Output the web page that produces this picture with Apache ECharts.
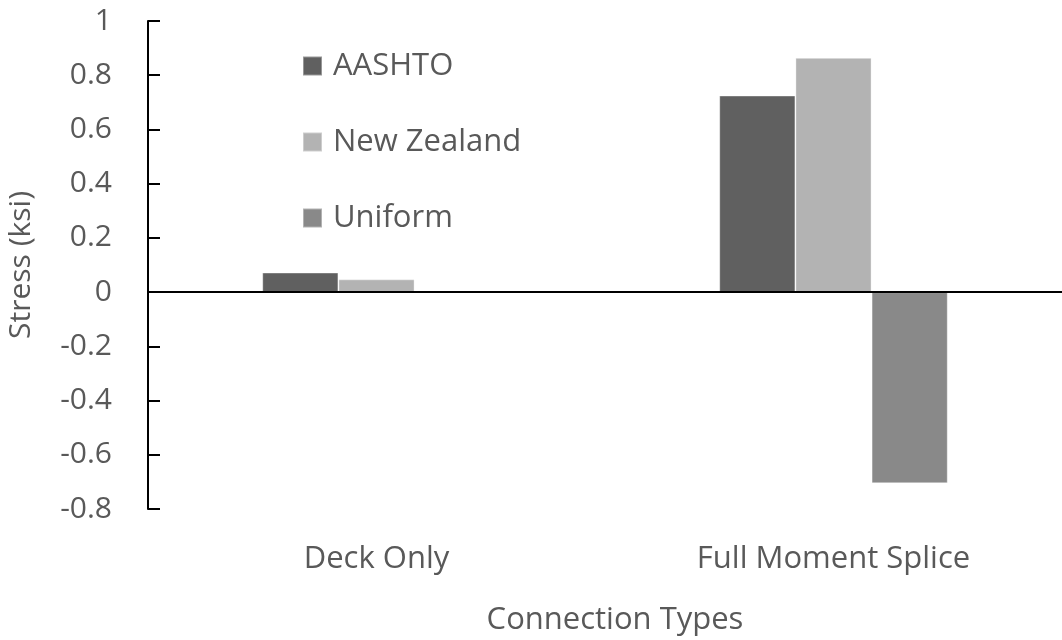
<!DOCTYPE html>
<html>
<head>
<meta charset="utf-8">
<script src="https://cdn.jsdelivr.net/npm/echarts@6/dist/echarts.min.js"></script>
<style>
  html, body { margin: 0; padding: 0; background: #fff; }
  #chart { width: 1062px; height: 640px; }
</style>
</head>
<body>
<div id="chart"></div>
<script>
// Connection types on the category axis
const categories = ['Deck Only', 'Full Moment Splice'];

// Stress (ksi) per load distribution method
const aashto = [0.072, 0.725];
const newZealand = [0.047, 0.864];
const uniform = [0, -0.705];

const seriesNames = ['AASHTO', 'New Zealand', 'Uniform'];
const seriesColors = ['#606060', '#b3b3b3', '#898989'];

const textColor = '#595959';
const fontFamily = '"Open Sans", "Noto Sans", sans-serif';

const chart = echarts.init(document.getElementById('chart'));

const values = [aashto, newZealand, uniform];

const series = values.map((data, i) => ({
  name: seriesNames[i],
  type: 'bar',
  data: data,
  barGap: '0%',
  barCategoryGap: '50%',
  itemStyle: { color: seriesColors[i], borderColor: 'rgba(255,255,255,0.35)', borderWidth: 1 },
  silent: true
}));

// zero baseline across the whole plot width
series[0].markLine = {
  silent: true,
  symbol: ['none', 'none'],
  label: { show: false },
  lineStyle: { color: '#000', width: 2, type: 'solid' },
  data: [{ yAxis: 0 }],
  animation: false
};

chart.setOption({
  animation: false,
  textStyle: { fontFamily: fontFamily },
  grid: { left: 148, right: 0, top: 21, bottom: 131, containLabel: false, outerBoundsMode: 'none' },
  legend: {
    orient: 'vertical',
    left: 302,
    top: 48,
    padding: 0,
    itemWidth: 19,
    itemHeight: 19,
    itemGap: 40,
    icon: 'rect',
    textStyle: { fontSize: 31, color: textColor, fontFamily: fontFamily, lineHeight: 36, padding: [0, 0, 0, 6] },
    data: seriesNames
  },
  xAxis: {
    type: 'category',
    data: categories,
    axisLine: { show: false, onZero: false },
    axisTick: { show: false },
    axisLabel: { fontSize: 31, color: textColor, fontFamily: fontFamily, margin: 35 },
    name: 'Connection Types',
    nameLocation: 'middle',
    nameGap: 96,
    nameTextStyle: { fontSize: 31, color: textColor, fontFamily: fontFamily, padding: [0, 0, 0, 20] }
  },
  yAxis: {
    type: 'value',
    min: -0.8,
    max: 1,
    interval: 0.2,
    axisLine: { show: true, lineStyle: { color: '#000', width: 2 } },
    axisTick: { show: true, inside: true, length: 12, lineStyle: { color: '#000', width: 2 } },
    splitLine: { show: false },
    axisLabel: {
      fontSize: 30,
      color: textColor,
      fontFamily: fontFamily,
      margin: 36,
      formatter: v => String(Math.round(v * 10) / 10)
    },
    name: 'Stress (ksi)',
    nameLocation: 'middle',
    nameGap: 112,
    nameTextStyle: { fontSize: 30, color: textColor, fontFamily: fontFamily }
  },
  series: series
});
</script>
</body>
</html>
